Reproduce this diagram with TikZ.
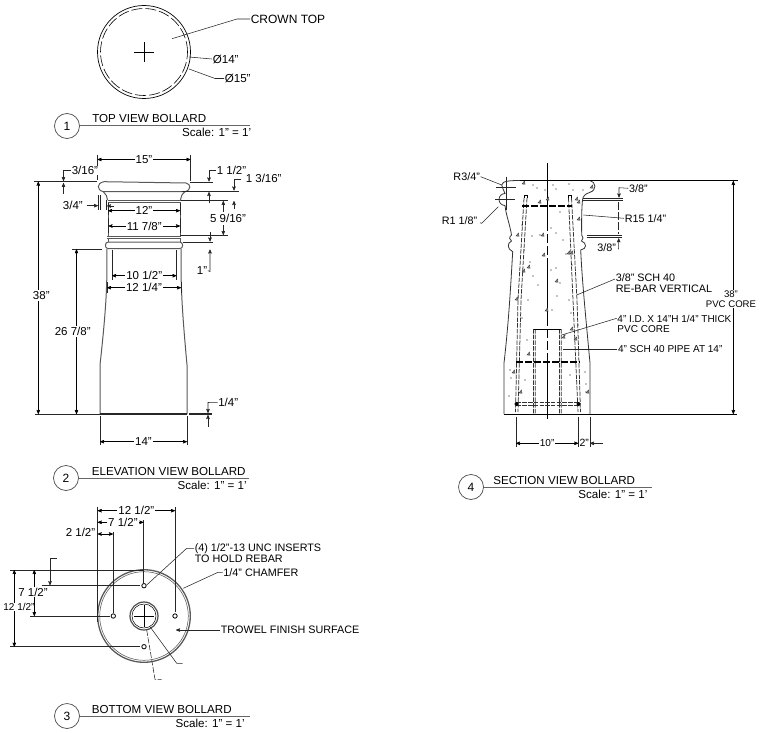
\documentclass[tikz,border=0pt]{standalone}
\usepackage{fontspec}
\setmainfont{Liberation Sans}
\usetikzlibrary{arrows}

\begin{document}
\begin{tikzpicture}[x=1pt,y=-1pt,>=stealth',line width=.55pt]
    \tikzstyle{outline}=[line width=1pt,draw=black!65]
    \tikzstyle{ext}=[line width=.55pt,draw=black!85]
    \tikzstyle{dimline}=[<->,line width=.55pt,shorten >=0pt,shorten <=0pt]
    \tikzstyle{lead}=[line width=.55pt,draw=black!85]
    \tikzstyle{dimlbl}=[fill=white,inner sep=1pt,font=\fontsize{11.5}{12}\selectfont]
    \tikzstyle{lbl}=[inner sep=.5pt,anchor=west,align=left,font=\fontsize{10.8}{11.2}\selectfont]
    \tikzstyle{bubble}=[draw=black!70,circle,minimum size=25pt,inner sep=0pt,line width=.7pt,font=\fontsize{12}{12}\selectfont]
    \tikzstyle{ttl}=[inner sep=0pt,anchor=base west,font=\fontsize{11.6}{12}\selectfont]
    \tikzstyle{scl}=[inner sep=0pt,anchor=base east,font=\fontsize{11.6}{12}\selectfont]
    \tikzstyle{rebar}=[line width=.75pt,dash pattern=on 4.5pt off 1.2pt,draw=black!80]
    \tikzstyle{tie}=[line width=1.6pt,dash pattern=on 7pt off 2pt]
    \useasboundingbox (0,0) rectangle (760,733);

    % titles
    \foreach \n/\cx/\cy/\ex/\tx/\sx/\t in {1/67/126/250/92/251.5/TOP VIEW BOLLARD,
        2/66/478/249/91.7/247/ELEVATION VIEW BOLLARD,
        3/67/716/250/91.7/245/BOTTOM VIEW BOLLARD,
        4/471/487/652/493/647.7/SECTION VIEW BOLLARD}{
      \node[bubble] (bub\n) at (\cx,\cy) {\n};
      \draw[line width=1pt,black!60] (bub\n.east) -- (\ex,\cy);
      \node[ttl] (ttl\n) at (\tx,\cy-3) {\t};
      \node[scl] (scl\n) at (\sx,\cy+11) {Scale: 1" = 1'};
    }

    % top view
    \draw[line width=.7pt] (144,52) circle (46.5pt);
    \draw[line width=.6pt,dash pattern=on 11pt off 3pt] (144,52) circle (43.5pt);
    \draw (134,52) -- (154,52) (144,42) -- (144,62);
    \node[lbl,font=\fontsize{12}{12}\selectfont] (crown) at (250,19) {CROWN TOP};
    \node[lbl,font=\fontsize{11.6}{12}\selectfont] (dia14) at (212,59) {Ø14"};
    \node[lbl,font=\fontsize{11.6}{12}\selectfont] (dia15) at (224,78.5) {Ø15"};
    \draw[lead] (crown.west) -- (237,19) -- (172,38.7);
    \draw[lead] (dia14.west) -- (189,57);
    \draw[lead] (dia15.west) -- (215,78.5) -- (189,69);

    % elevation
    \draw[outline] (104,181.7) -- (186,183) .. controls (191,184) and (191.5,190) .. (185,191.7) -- (103.3,191.7) .. controls (96.5,190) and (96.5,183) .. cycle;
    \draw[outline] (103.3,191.7) .. controls (106,194) and (107.5,197) .. (107.5,200)
                   (185,191.7) .. controls (182,194) and (180.5,197) .. (180.5,200);
    \draw[outline] (107.5,200) -- (180.5,200) (108,202) -- (180,202)
                   (108,202) -- (108,236) (180,202) -- (180,236)
                   (107,236) -- (181,236) (107,238.5) -- (181,238.5) (108,238.5) -- (108,242) (180,238.5) -- (180,242);
    \draw[outline,rounded corners=2.5pt] (108,242.2) -- (105.5,242.2) -- (105.5,248.5) -- (182.5,248.5) -- (182.5,242.2) -- (108,242.2);
    \draw[outline] (106.8,249) .. controls (107.5,285) and (106,310) .. (100,365) -- (100,414)
                   (187,414) -- (187,365) .. controls (182,310) and (180.5,285) .. (181.2,249);
    \draw[line width=1.2pt,black!85] (100,414) -- (187,414) (189,414) -- (212,414);

    \draw[ext] (97.5,155) -- (97.5,180) (190.5,155) -- (190.5,181)
               (34,181.7) -- (97,181.7) (190,182.3) -- (213,182.3)
               (182,191) -- (239,191) (181,200) -- (228,200)
               (180,235.7) -- (228,235.7) (183,242.3) -- (213,242.3)
               (72,249.3) -- (102,249.3) (35,414) -- (100,414)
               (98.5,195) -- (98.5,210) (100.5,195) -- (100.5,210) (106.7,200) -- (106.7,210)
               (108,203) -- (108,215) (180,203) -- (180,215)
               (108.5,218) -- (108.5,233) (180,218) -- (180,233)
               (112,250) -- (112,280) (176.5,250) -- (176.5,280)
               (107,282) -- (107,293) (181,282) -- (181,293)
               (100,416) -- (100,445) (187,416) -- (187,445);
    \draw[dimline] (97.5,159.5) -- node[dimlbl] (d15) {15"} (190.5,159.5);
    \draw[dimline] (108,210.7) -- node[dimlbl] (d12) {12"} (180,210.7);
    \draw[dimline] (108.5,226) -- node[dimlbl] (d1178) {11 7/8"} (180,226);
    \draw[dimline] (112,275.7) -- node[dimlbl] (d1012) {10 1/2"} (176.5,275.7);
    \draw[dimline] (107,287.7) -- node[dimlbl] (d1214) {12 1/4"} (181,287.7);
    \draw[dimline] (100,441.7) -- node[dimlbl] (d14) {14"} (187,441.7);
    \draw[dimline] (38.3,181.7) -- node[dimlbl,pos=.49,xshift=3pt] (d38) {38"} (38.3,414);
    \draw[dimline] (76.5,249.3) -- node[dimlbl,pos=.5,xshift=-3.8pt] (d2678) {26 7/8"} (76.5,414);

    \node[dimlbl,inner sep=.5pt,anchor=west] (d316) at (71,170.5) {3/16"};
    \draw[lead,->] (d316.west) -- (63.5,170.5) -- (63.5,181);
    \draw[lead,->] (63.5,194) -- (63.5,183);
    \node[dimlbl,inner sep=.5pt,anchor=east] (d34) at (83.5,205.7) {3/4"};
    \draw[lead,->] (d34.east) ++(3,0) -- (98,205.7);
    \draw[lead,->] (114,206) -- (107,206);
    \node[dimlbl,inner sep=.5pt,anchor=west] (d112) at (216,170.7) {1 1/2"};
    \draw[lead,->] (d112.west) -- (209,170.7) -- (209,181.5);
    \draw[lead,->] (209,203) -- (209,192);
    \node[dimlbl,inner sep=.5pt,anchor=west] (d1316) at (245,178.5) {1 3/16"};
    \draw[lead,->] (d1316.west) ++(-4,1) -- (234,179.5) -- (234,190.5);
    \draw[lead,->] (234,209) -- (234,201);
    \node[dimlbl,inner sep=.5pt] (d5916) at (228,218) {5 9/16"};
    \draw[lead,->] (223.3,212) -- (223.3,201);
    \draw[lead,->] (223.3,225) -- (223.3,235);
    \node[dimlbl,inner sep=.5pt] (d1) at (202,270.7) {1"};
    \draw[lead,->] (d1.east) -- (210,271.5) -- (210,249.5);
    \draw[lead,->] (210,232) -- (210,241.5);
    \node[dimlbl,inner sep=.5pt,anchor=west] (d14b) at (217.5,402.7) {1/4"};
    \draw[lead,->] (d14b.west) -- (208,402.5) -- (208,413);
    \draw[lead,->] (208,427) -- (208,415);

    % bottom view
    \draw[line width=1.3pt,black!65] (144,616) circle (46.3pt);
    \draw[line width=.5pt,black!70] (144,616) circle (44.3pt);
    \draw[line width=1.2pt,black!70] (144,616) circle (14pt);
    \draw[line width=.5pt] (144,616) circle (12pt);
    \draw (134,616) -- (154,616) (144,605) -- (144,627);
    \foreach \x/\y in {144/585.7,113.3/616,175/616,144/646.7}
      \draw[line width=.8pt] (\x,\y) circle (2.2pt);

    \draw[ext] (97.7,506.7) -- (97.7,622) (175,506.7) -- (175,611.7)
               (143.5,520) -- (143.5,583) (113,531.7) -- (113,612.7)
               (10,570) -- (143,570) (10,646.7) -- (140,646.7)
               (30,616) -- (110,616) (41.7,585.7) -- (140,585.7);
    \draw[dimline] (97.7,510.7) -- node[dimlbl,pos=.5] (b1212) {12 1/2"} (175,510.7);
    \draw[dimline] (97.7,522.3) -- node[dimlbl,pos=.55] (b712) {7 1/2"} (143.5,522.3);
    \draw[dimline] (97.7,534) -- (113,534);
    \node[dimlbl,inner sep=.5pt,anchor=east] (b212) at (96,532.3) {2 1/2"};
    \draw[dimline] (14.3,570) -- (14.3,646.7);
    \node[dimlbl,font=\fontsize{10}{11}\selectfont,inner sep=.5pt] (l1212) at (19,606.7) {12 1/2"};
    \draw[dimline] (34.3,570) -- (34.3,616);
    \node[dimlbl,inner sep=.5pt] (l712) at (33,592) {7 1/2"};
    \draw[lead,->] (56.7,558) -- (50,558) -- (50,585.2);

    \node[lbl] (insert) at (194,553.5) {(4) 1/2"-13 UNC INSERTS\\TO HOLD REBAR};
    \node[lbl] (chamfer) at (222.7,572.3) {1/4" CHAMFER};
    \node[lbl] (trowel) at (220,630) {TROWEL FINISH SURFACE};
    \draw[lead] (insert.west |- 0,548.3) -- (186.7,548.3) -- (146.7,585);
    \draw[lead] (chamfer.west) -- (218,572.3) -- (183.3,588.3);
    \draw[lead,->] (trowel.west) -- (176,630);
    \draw[lead] (150,626.7) -- (176.7,663.3) -- (182.7,663.3);
    \draw[lead,dash pattern=on 6pt off 1.5pt] (146.7,630) -- (155,679.3) -- (161.7,679.3);

    % section
    \draw[line width=.8pt,black!80] (520,180.5) -- (590,180.5) .. controls (596,182) and (597,190) .. (590,192.3)
       .. controls (585,194) and (583,196) .. (582.5,200) .. controls (581.5,210) and (581.5,225) .. (581.7,235)
       .. controls (583,237) and (584,239) .. (581.5,241) .. controls (587,243) and (587,249) .. (580.7,250)
       .. controls (582,280) and (586,320) .. (590,363) -- (590,414);
    \draw[line width=.8pt,black!80] (520,180.5) .. controls (510,180.5) and (502,181) .. (501.7,185) .. controls (502,188) and (504,190) .. (505,193.5)
       arc[start angle=90,delta angle=180,radius=6pt]
       (505,205.5) .. controls (506,215) and (510,225) .. (511.5,235)
       .. controls (509,237) and (509,240) .. (511.5,241) .. controls (507,243) and (507,249) .. (512.7,251.7)
       .. controls (511,280) and (509,320) .. (504,363) -- (504,414);
    \draw[line width=.9pt] (504,414) -- (736.7,414) (520,180.5) -- (738,180.5);

    \draw[dash pattern=on 68pt off 3pt on 9pt off 3pt on 9pt off 3pt] (547.3,163) -- (547.3,419);
    \draw[rebar] (524,198) -- (518,300) -- (515.5,412) (527,198) -- (521,300) -- (518,412)
                 (568.5,198) -- (573,300) -- (578,412) (571.5,198) -- (577,300) -- (580.5,412)
                 (533.5,329) -- (533.5,414) (535.3,329) -- (535.3,414)
                 (559.5,329) -- (559.5,414) (561.3,329) -- (561.3,414);
    \draw (533.5,329) -- (561.3,329);
    \draw (524,198) -- (524,195) -- (527,195) -- (527,198) (568.5,198) -- (568.5,195) -- (571.5,195) -- (571.5,198);
    \draw[tie] (521.7,205.7) -- (571.7,205.7);
    \draw[tie] (516,361.7) -- (580,361.7);
    \draw[rebar,line width=.8pt] (516.7,402.7) -- (578,402.7) (516.7,405.3) -- (578,405.3);
    \fill (516.5,404) circle (2pt) (578.5,404) circle (2pt);

    % concrete
    \foreach \x/\y in {533/185,537/188,545/190,553/185,556/189,569/184,573/190,583/190,
        560/212,551/228,556/233,522/225,532/236,540/235,563/240,566/254,530/262,572/265,
        556/268,551/270,560/283,557/296,524/250,533/276,538/285,528/300,569/300,552/310,
        522/318,571/313,578/325,527/340,565/335,510/370,511/378,585/372,586/384,
        509/396,586/392,570/375,525/380}
      \fill (\x,\y) circle (.6pt);
    \foreach \x/\y in {522/184,590/188,575/200,538/203,546/200,577/220,577/203,516/236,
        541/236,570/254,542/256,545/311,567/254,522/272,527/268,555/282,515/300,570/330,
        574/340,527/355,512/373,519/393,586/393,562/338}{
      \filldraw[line width=.35pt,fill=black!45,draw=black!80] (\x,\y) -- ++(2.4,-3) -- ++(.7,3.2) -- cycle;
    }

    \draw[ext] (496,187.3) -- (516,187.3) (495,199.3) -- (515,199.3) (506,176.7) -- (506,210);
    \node[lbl] (r34) at (452.7,176.7) {R3/4"};
    \node[lbl] (r118) at (441,220.7) {R1 1/8"};
    \draw[lead] (r34.east) -- (501.7,185);
    \draw[lead] (r118.east) ++(2,2) -- (481.7,223.3) -- (498.3,206.7);

    \draw[dimline] (733.3,181) -- (733.3,414);
    \node[lbl,anchor=center,align=center,fill=white,font=\fontsize{9.6}{10.5}\selectfont] (h38) at (731,299) {38"\\PVC CORE};
    \node[lbl] (s38a) at (628.3,188.3) {3/8"};
    \node[lbl] (r15) at (624,218.3) {R15 1/4"};
    \node[lbl] (s38b) at (596.7,247.3) {3/8"};
    \node[lbl] (rebarv) at (615,283.5) {3/8" SCH 40\\RE-BAR VERTICAL};
    \node[lbl,font=\fontsize{10}{10.2}\selectfont] (pvc) at (616.7,324.3) {4" I.D. X 14"H 1/4" THICK\\PVC CORE};
    \node[lbl,font=\fontsize{10}{11}\selectfont] (pipe) at (617.3,349.3) {4" SCH 40 PIPE AT 14"};
    \draw[ext] (583,198.3) -- (622.7,198.3) (583,200.7) -- (622.7,200.7)
               (586.7,235) -- (621.7,235) (586.7,237.3) -- (621.7,237.3);
    \draw[lead,->] (s38a.west) -- (619,187.7) -- (619,197.5);
    \draw[lead,dash pattern=on 8pt off 2pt] (618.5,202) -- (618.5,234);
    \draw[lead,->] (s38b.east) ++(1,1.5) -- (618.7,249) -- (618.7,238.3);
    \draw[lead] (r15.west) -- (583.3,215);
    \draw[lead] (rebarv.west |- 0,279) -- (576.7,295);
    \draw[lead] (pvc.west |- 0,318.3) -- (561.7,335);
    \draw[lead] (pipe.west) -- (563.3,349.3);

    \draw[ext] (516,416.7) -- (516,446.7) (578.3,416.7) -- (578.3,446.7) (590,416.7) -- (590,446.7);
    \draw[dimline] (516,443.3) -- node[dimlbl,font=\fontsize{10}{11}\selectfont] (s10) {10"} (578.3,443.3);
    \node[dimlbl,font=\fontsize{10.5}{11}\selectfont,fill=none,inner sep=0pt] (s2) at (584.3,443.3) {2"};
    \draw[lead,->] (602.7,443.3) -- (590,443.3);
\end{tikzpicture}
\end{document}
